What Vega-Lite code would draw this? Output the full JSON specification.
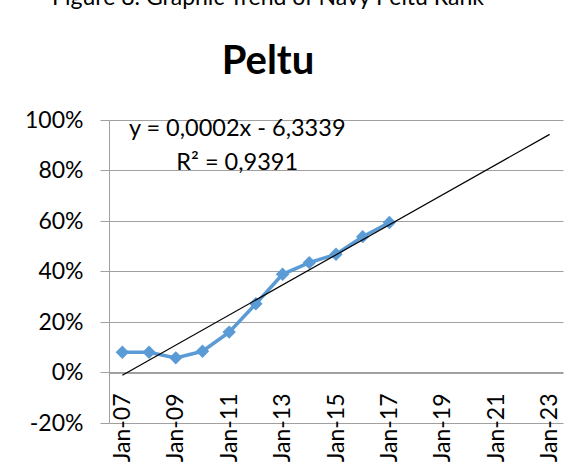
{
  "$schema": "https://vega.github.io/schema/vega-lite/v6.json",
  "width": 454,
  "height": 303,
  "autosize": {"type": "none"},
  "padding": {"left": 109, "top": 120, "right": 24, "bottom": 47},
  "background": "white",
  "config": {
    "view": {"stroke": null},
    "font": "Lato"
  },
  "title": {
    "text": "Figure 8. Graphic Trend of Navy Peltu Rank",
    "subtitle": "Peltu",
    "anchor": "middle",
    "frame": "group",
    "dx": -68,
    "offset": 27,
    "font": "Lato",
    "fontSize": 23,
    "fontWeight": "normal",
    "color": "black",
    "subtitleFont": "Lato",
    "subtitleFontSize": 40,
    "subtitleFontWeight": "bold",
    "subtitleColor": "black",
    "subtitlePadding": 32
  },
  "datasets": {
    "peltu": [
      {"year": 2007, "share": 0.080},
      {"year": 2008, "share": 0.080},
      {"year": 2009, "share": 0.058},
      {"year": 2010, "share": 0.084},
      {"year": 2011, "share": 0.160},
      {"year": 2012, "share": 0.272},
      {"year": 2013, "share": 0.389},
      {"year": 2014, "share": 0.435},
      {"year": 2015, "share": 0.468},
      {"year": 2016, "share": 0.538},
      {"year": 2017, "share": 0.594}
    ],
    "trend": [
      {"year": 2007, "share": -0.011},
      {"year": 2023, "share": 0.943}
    ],
    "labels": [
      {"text": "y = 0,0002x - 6,3339"},
      {"text": "R² = 0,9391"}
    ]
  },
  "layer": [
    {
      "data": {"name": "peltu"},
      "mark": {"type": "line", "color": "#5B9BD5", "strokeWidth": 3.5, "point": {"shape": "diamond", "size": 180, "filled": true, "color": "#5B9BD5"}},
      "encoding": {
        "x": {
          "field": "year",
          "type": "quantitative",
          "scale": {"domain": [2006.5, 2023.5], "nice": false, "zero": false},
          "axis": {
            "title": null,
            "orient": "bottom",
            "offset": -50,
            "grid": false,
            "values": [2007, 2008.5, 2009, 2010.5, 2011, 2012.5, 2013, 2014.5, 2015, 2016.5, 2017, 2018.5, 2019, 2020.5, 2021, 2022.5, 2023],
            "labelExpr": "datum.value % 1 == 0 ? 'Jan-' + substring(toString(datum.value), 2, 4) : ''",
            "labelAngle": -90,
            "labelAlign": "right",
            "labelBaseline": "middle",
            "labelFont": "Lato",
            "labelFontSize": 23,
            "labelColor": "black",
            "labelPadding": 11,
            "labelOverlap": false,
            "labelBound": false,
            "labelFlush": false,
            "tickSize": 9,
            "tickColor": "#a0a0a0",
            "tickOpacity": {"condition": {"test": "datum.value % 1 == 0", "value": 0}, "value": 1},
            "domainColor": "#a0a0a0",
            "domainWidth": 1
          }
        },
        "y": {
          "field": "share",
          "type": "quantitative",
          "scale": {"domain": [-0.2, 1.0], "nice": false, "zero": false},
          "axis": {
            "title": null,
            "values": [-0.2, 0, 0.2, 0.4, 0.6, 0.8, 1.0],
            "format": ".0%",
            "labelExpr": "replace(datum.label, '\u2212', '-')",
            "labelFont": "Lato",
            "labelFontSize": 23,
            "labelColor": "black",
            "labelPadding": 17,
            "tickSize": 9,
            "tickColor": "#a0a0a0",
            "grid": true,
            "gridColor": "#a0a0a0",
            "gridWidth": 1,
            "domainColor": "#a0a0a0",
            "domainWidth": 1
          }
        }
      }
    },
    {
      "data": {"name": "trend"},
      "mark": {"type": "line", "color": "black", "strokeWidth": 1.2},
      "encoding": {
        "x": {"field": "year", "type": "quantitative"},
        "y": {"field": "share", "type": "quantitative"}
      }
    },
    {
      "data": {"name": "labels"},
      "mark": {"type": "text", "font": "Lato", "fontSize": 23.5, "align": "center", "baseline": "middle", "color": "black"},
      "encoding": {
        "x": {"datum": 2011.3, "type": "quantitative"},
        "y": {"datum": 0.966, "type": "quantitative"},
        "yOffset": {"field": "text", "type": "nominal", "sort": null, "scale": {"type": "point", "range": [0, 34], "padding": 0}, "legend": null},
        "text": {"field": "text", "type": "nominal"}
      }
    }
  ]
}
